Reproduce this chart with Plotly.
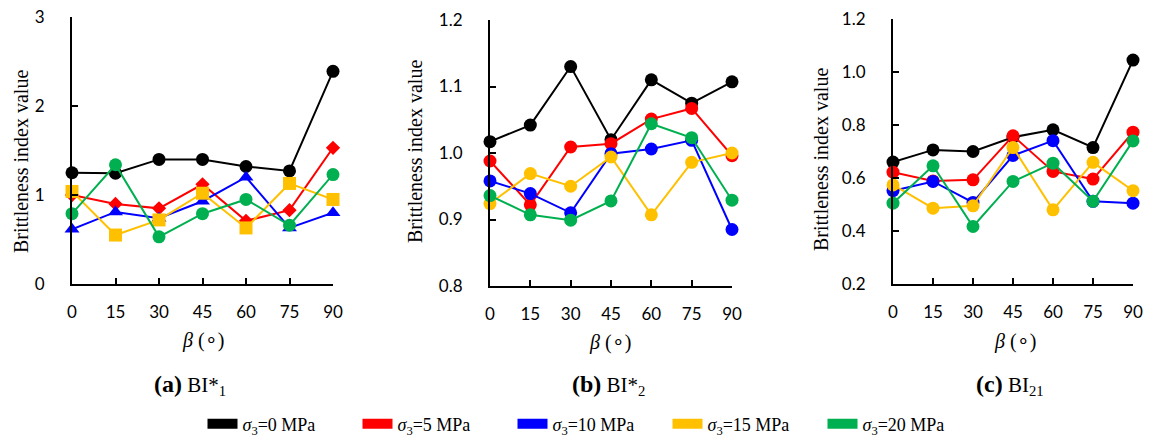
import plotly.graph_objects as go

beta = [0, 15, 30, 45, 60, 75, 90]
series_names = ["<i>σ</i><sub>3</sub>=0 MPa", "<i>σ</i><sub>3</sub>=5 MPa", "<i>σ</i><sub>3</sub>=10 MPa",
                "<i>σ</i><sub>3</sub>=15 MPa", "<i>σ</i><sub>3</sub>=20 MPa"]
colors = ["#000000", "#FF0000", "#0000FF", "#FFC000", "#00B050"]

# Panel (a) BI*1
a_s0 = [1.25, 1.245, 1.40, 1.40, 1.32, 1.27, 2.39]
a_s5 = [1.00, 0.90, 0.85, 1.12, 0.71, 0.83, 1.53]
a_s10 = [0.615, 0.81, 0.74, 0.93, 1.20, 0.63, 0.80]
a_s15 = [1.04, 0.55, 0.72, 1.02, 0.63, 1.13, 0.95]
a_s20 = [0.79, 1.34, 0.53, 0.79, 0.95, 0.66, 1.23]

# Panel (b) BI*2
b_s0 = [1.017, 1.042, 1.130, 1.020, 1.110, 1.075, 1.107]
b_s5 = [0.988, 0.922, 1.009, 1.014, 1.051, 1.067, 0.996]
b_s10 = [0.958, 0.939, 0.910, 0.999, 1.006, 1.019, 0.885]
b_s15 = [0.924, 0.969, 0.950, 0.994, 0.907, 0.986, 1.000]
b_s20 = [0.936, 0.907, 0.899, 0.928, 1.044, 1.023, 0.929]

# Panel (c) BI21
c_s0 = [0.660, 0.706, 0.700, 0.754, 0.782, 0.715, 1.045]
c_s5 = [0.622, 0.589, 0.593, 0.759, 0.625, 0.596, 0.773]
c_s10 = [0.552, 0.587, 0.508, 0.685, 0.741, 0.512, 0.505]
c_s15 = [0.574, 0.486, 0.495, 0.715, 0.480, 0.659, 0.552]
c_s20 = [0.505, 0.646, 0.417, 0.587, 0.656, 0.512, 0.740]

panels = [
    dict(data=[a_s0, a_s5, a_s10, a_s15, a_s20],
         symbols=["circle", "diamond", "triangle-up", "square", "circle"],
         sizes=[13, 11, 13, 13, 13],
         yrange=[0, 3], ytick=[0, 1, 2, 3], yfmt="d",
         caption="<b><span style='font-size:24px'>(a)</span></b> BI*<sub>1</sub>"),
    dict(data=[b_s0, b_s5, b_s10, b_s15, b_s20],
         symbols=["circle"] * 5, sizes=[13] * 5,
         yrange=[0.8, 1.2], ytick=[0.8, 0.9, 1.0, 1.1, 1.2], yfmt=".1f",
         caption="<b><span style='font-size:24px'>(b)</span></b> BI*<sub>2</sub>"),
    dict(data=[c_s0, c_s5, c_s10, c_s15, c_s20],
         symbols=["circle"] * 5, sizes=[13] * 5,
         yrange=[0.2, 1.2], ytick=[0.2, 0.4, 0.6, 0.8, 1.0, 1.2], yfmt=".1f",
         caption="<b><span style='font-size:24px'>(c)</span></b> BI<sub>21</sub>"),
]

W, H = 1150, 440
# pixel placement of the plot areas
xdoms_px = [(72, 333), (490, 732), (893, 1133)]
ydoms_px = [(17, 284), (20, 286), (19, 284)]
ytitle_px = [(21, 162), (415, 152), (821, 160)]
xtitle_px = [(203, 340), (610, 342), (1015, 341)]
caption_px = [(190, 385), (608, 385), (1010, 385)]

serif = "Liberation Serif, Times New Roman, serif"
sans = "Lato, Carlito, Liberation Sans, sans-serif"

fig = go.Figure()
layout = dict(width=W, height=H, margin=dict(l=0, r=0, t=0, b=0, autoexpand=False),
              paper_bgcolor="white", plot_bgcolor="white", showlegend=True)
annotations = []

for i, p in enumerate(panels):
    n = "" if i == 0 else str(i + 1)
    for k in range(5):
        fig.add_trace(go.Scatter(
            x=beta, y=p["data"][k], mode="lines+markers",
            line=dict(color=colors[k], width=2),
            marker=dict(symbol=p["symbols"][k], size=p["sizes"][k], color=colors[k]),
            xaxis="x" + n, yaxis="y" + n, showlegend=False, cliponaxis=False,
            name=series_names[k]))
    x0, x1 = xdoms_px[i]
    y0, y1 = ydoms_px[i]
    layout["xaxis" + n] = dict(
        domain=[x0 / W, x1 / W], anchor="y" + n, range=[0, 90], automargin=False,
        tickvals=beta, ticks="inside", ticklen=6, tickwidth=1.5, tickcolor="black",
        showline=True, linecolor="black", linewidth=2, showgrid=False, zeroline=False,
        tickfont=dict(family=sans, size=17, color="black"), ticklabelstandoff=12)
    layout["yaxis" + n] = dict(
        domain=[1 - y1 / H, 1 - y0 / H], anchor="x" + n, range=p["yrange"], automargin=False,
        tickvals=p["ytick"], tickformat=p["yfmt"], ticks="inside", ticklen=6,
        tickwidth=1.5, tickcolor="black",
        showline=True, linecolor="black", linewidth=2, showgrid=False, zeroline=False,
        tickfont=dict(family=sans, size=17, color="black"), ticklabelstandoff=22)
    tx, ty = ytitle_px[i]
    annotations.append(dict(x=tx / W, y=1 - ty / H, xref="paper", yref="paper",
                            text="Brittleness index value", textangle=-90, showarrow=False,
                            font=dict(family=serif, size=20, color="black"),
                            xanchor="center", yanchor="middle"))
    tx, ty = xtitle_px[i]
    annotations.append(dict(x=tx / W, y=1 - ty / H, xref="paper", yref="paper",
                            text="<i>β</i> (∘)", showarrow=False,
                            font=dict(family=serif, size=20, color="black"),
                            xanchor="center", yanchor="middle"))
    tx, ty = caption_px[i]
    annotations.append(dict(x=tx / W, y=1 - ty / H, xref="paper", yref="paper",
                            text=p["caption"], showarrow=False,
                            font=dict(family=serif, size=21, color="black"),
                            xanchor="center", yanchor="middle"))

# legend entries (colour swatches)
for k in range(5):
    fig.add_trace(go.Scatter(x=[None], y=[None], mode="lines", name=series_names[k],
                             line=dict(color=colors[k], width=10), showlegend=True))

layout["legend"] = dict(orientation="h", x=590 / W, xanchor="center", y=1 - 424 / H,
                        yanchor="middle", font=dict(family=serif, size=18, color="black"),
                        itemwidth=30, entrywidth=110, bgcolor="rgba(0,0,0,0)")
layout["annotations"] = annotations
fig.update_layout(**layout)
fig.write_html("out.html", config={"displayModeBar": False},
               post_script="document.body.style.margin='0';document.body.style.padding='0';")
